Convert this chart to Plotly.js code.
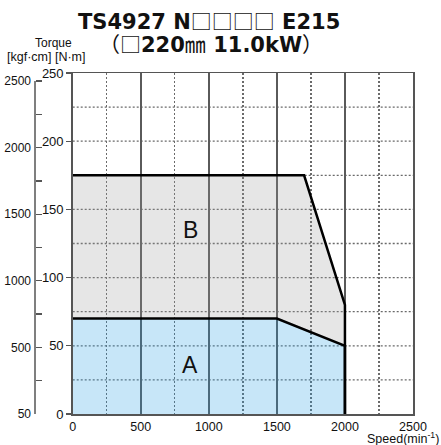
<!DOCTYPE html>
<html>
<head>
<meta charset="utf-8">
<script src="https://cdn.plot.ly/plotly-3.0.1.min.js"></script>
<style>html,body{margin:0;padding:0;background:#fff;}#chart{width:441px;height:445px;}</style>
</head>
<body>
<div id="chart"></div>
<script>
// Data
const speedB = [0, 1700, 2000, 2000];
const torqueB = [175, 175, 80, 0];
const speedA = [0, 1500, 2000, 2000];
const torqueA = [70, 70, 50, 0];
const xTickVals = [0, 500, 1000, 1500, 2000, 2500];
const yTickVals = [0, 50, 100, 150, 200, 250];
const yGridVals = [25, 50, 75, 100, 125, 150, 175, 200, 225];
const kgfTickVals = [0, 250, 500, 750, 1000, 1250, 1500, 1750, 2000, 2250, 2500];
const kgfTickText = ["50", "", "500", "", "1000", "", "1500", "", "2000", "", "2500"];
const regionNames = ["A", "B"];
const CJK = 'font-family:\'Noto Sans CJK JP\';font-weight:normal';
const titleLine1 = 'TS4927 N<span style="' + CJK + '">□□□□</span> E215';
const titleLine2 = '<span style="' + CJK + '">（□</span>220<span style="' + CJK + '">㎜</span> 11.0kW<span style="' + CJK + '">）</span>';

const FONT = 'Liberation Sans, Arial, Helvetica, sans-serif';
const TFONT = 'DejaVu Sans, Liberation Sans, sans-serif';
const L = 25, R = 28, T = 73, B = 31;
const W = 441, H = 445;
const pw = W - L - R, ph = H - T - B;
const px2x = p => (p - L) / pw;
const px2y = p => (H - B - p) / ph;
// kgf·cm axis: 2500 sits at pixel 81 while the N·m axis spans 73..414
const kgfTop = 2500 * ph / (H - B - 81);

const traces = [
  {x: speedA, y: torqueA, mode: 'lines', line: {color: '#000', width: 2.5},
   fill: 'tozeroy', fillcolor: 'rgba(31,155,227,0.25)', hoverinfo: 'skip', showlegend: false},
  {x: speedB, y: torqueB, mode: 'lines', line: {color: '#000', width: 2.5},
   fill: 'tonexty', fillcolor: 'rgba(155,155,155,0.25)', hoverinfo: 'skip', showlegend: false}
];

const DOT = '2px,2px';
// horizontal dotted grid lines (one per grid value)
const gridShapes = yGridVals.map(v => ({
  type: 'line', xref: 'x domain', yref: 'y', x0: 0, x1: 1, y0: v, y1: v,
  line: {color: '#6a6a6a', width: 1.3, dash: DOT}, layer: 'below'
}));

const layout = {
  width: W, height: H,
  margin: {l: L, r: R, t: T, b: B, pad: 0},
  paper_bgcolor: '#fff', plot_bgcolor: 'rgba(0,0,0,0)',
  font: {family: FONT, color: '#111', size: 12.5},
  showlegend: false,
  xaxis: {
    domain: [px2x(72.7), 1], range: [0, 2500], tickmode: 'array', tickvals: xTickVals,
    showgrid: true, gridcolor: '#5a5a5a', gridwidth: 1.5,
    minor: {dtick: 250, tick0: 0, showgrid: true, gridcolor: '#6a6a6a', gridwidth: 1.3, griddash: DOT},
    showline: true, linecolor: '#555', linewidth: 1.5, mirror: true,
    ticks: '', zeroline: false, tickfont: {size: 12.5, color: '#111'}, fixedrange: true
  },
  yaxis: {
    range: [0, 250], tickmode: 'array', tickvals: yTickVals,
    showgrid: false,
    ticks: 'outside', ticklen: 5, tickcolor: '#555', tickwidth: 1.3,
    showline: true, linecolor: '#555', linewidth: 1.5, mirror: true,
    zeroline: false, tickfont: {size: 13, color: '#111'}, fixedrange: true
  },
  yaxis2: {
    overlaying: 'y', anchor: 'free', position: px2x(35), side: 'left',
    range: [0, kgfTop],
    tickmode: 'array', tickvals: kgfTickVals, ticktext: kgfTickText,
    ticks: 'inside', ticklen: 6, tickcolor: '#555', tickwidth: 1.3,
    showline: false, showgrid: false, zeroline: false, ticklabelstandoff: 4,
    tickfont: {size: 12, color: '#111'}, fixedrange: true
  },
  shapes: gridShapes.concat([
    {type: 'line', xref: 'paper', yref: 'y2', x0: px2x(35), x1: px2x(35),
     y0: kgfTickVals[0], y1: kgfTickVals[kgfTickVals.length - 1],
     line: {color: '#555', width: 1.5}, layer: 'above'}
  ]),
  annotations: [
    {text: '<b>' + titleLine1 + '</b>', xref: 'paper', yref: 'paper', x: px2x(209), y: px2y(20.5),
     xanchor: 'center', yanchor: 'middle', showarrow: false, font: {size: 21, color: '#111', family: TFONT}},
    {text: '<b>' + titleLine2 + '</b>', xref: 'paper', yref: 'paper', x: px2x(211), y: px2y(43),
     xanchor: 'center', yanchor: 'middle', showarrow: false, font: {size: 21, color: '#111', family: TFONT}},
    {text: 'Torque', xref: 'paper', yref: 'paper', x: px2x(53), y: px2y(43),
     xanchor: 'center', yanchor: 'middle', showarrow: false, font: {size: 12, color: '#111'}},
    {text: '[kgf·cm] [N·m]', xref: 'paper', yref: 'paper', x: px2x(45.5), y: px2y(57),
     xanchor: 'center', yanchor: 'middle', showarrow: false, font: {size: 12.5, color: '#111'}},
    {text: 'Speed(min<sup>-1</sup>)', xref: 'paper', yref: 'paper', x: px2x(441), y: px2y(438),
     xanchor: 'right', yanchor: 'middle', showarrow: false, font: {size: 12.5, color: '#111'}},
    {text: regionNames[0], xref: 'x', yref: 'y', x: 862, y: 36, showarrow: false,
     xanchor: 'center', yanchor: 'middle', font: {size: 23, color: '#111'}},
    {text: regionNames[1], xref: 'x', yref: 'y', x: 862, y: 135, showarrow: false,
     xanchor: 'center', yanchor: 'middle', font: {size: 23, color: '#111'}}
  ]
};

Plotly.newPlot('chart', traces, layout, {displayModeBar: false, staticPlot: true});
</script>
</body>
</html>
